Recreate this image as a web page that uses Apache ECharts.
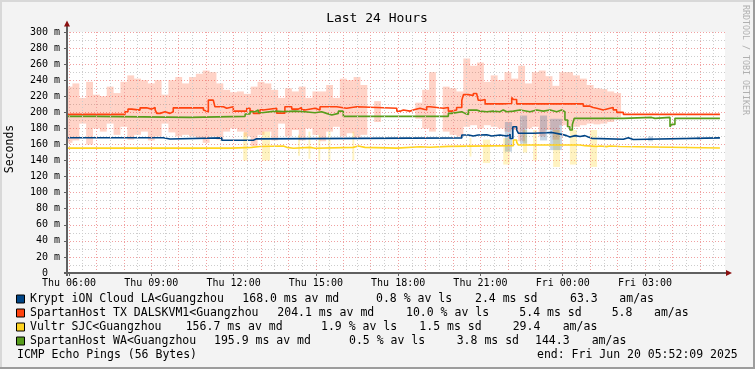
<!DOCTYPE html>
<html><head><meta charset="utf-8">
<script src="https://cdn.jsdelivr.net/npm/echarts@6/dist/echarts.min.js"></script>
<style>html,body{margin:0;padding:0;background:#f3f3f3}#c{width:755px;height:369px}</style>
</head><body><div id="c"></div><script>
const MONO = '"DejaVu Sans Mono", monospace';
// ---- axes ----
const xStart = 5.927, xEnd = 29.915;           // hours since Thu 00:00
const xLabelHours = [6, 9, 12, 15, 18, 21, 24, 27];
const xLabels = ['Thu 06:00','Thu 09:00','Thu 12:00','Thu 15:00','Thu 18:00','Thu 21:00','Fri 00:00','Fri 03:00'];
const yMin = 0, yMax = 300, yStep = 20;
const title = 'Last 24 Hours';
const yTitle = 'Seconds';
// ---- legend ----
const hostNames = ['Krypt iON Cloud LA<Guangzhou','SpartanHost TX DALSKVM1<Guangzhou','Vultr SJC<Guangzhou','SpartanHost WA<Guangzhou'];
const medianMs = ['168.0','204.1','156.7','195.9'];
const lossPct = ['0.8','10.0','1.9','0.5'];
const sdMs = ['2.4','5.4','1.5','3.8'];
const amas = ['63.3','5.8','29.4','144.3'];
const footLeft = 'ICMP Echo Pings (56 Bytes)';
const footRight = 'end: Fri Jun 20 05:52:09 2025';
// ---- median lines (step changes: hour, ms) ----
const kryptT = [5.93,9.44,9.68,11.57,12.72,12.84,20.32,20.56,20.74,20.92,21.23,21.41,21.71,21.96,22.08,22.18,22.32,22.38,22.93,23.42,23.60,23.96,24.14,24.26,24.45,24.63,24.81,24.93,25.06,26.21,26.39,26.57,29.73];
const kryptV = [168.4,166.8,168.2,165.2,167,168.2,171.7,170.5,171.7,172,170.5,171.7,170.5,172.6,167.5,182,178,174,174.5,175,172.6,171,169.3,171,170,171,169.3,167.6,166.5,168.5,166.2,168.2,168.2];
const txT = [5.93,8.04,8.15,8.29,8.59,8.83,9.01,9.14,9.20,9.32,9.50,9.68,9.80,10.90,10.96,11.08,11.26,11.32,11.63,11.75,11.99,12.48,12.60,12.72,12.96,13.08,13.57,13.87,14.12,14.36,14.48,14.60,14.97,15.15,15.76,16.12,16.49,17.95,18.07,18.19,18.43,18.61,18.68,18.80,19.04,19.16,19.65,19.83,19.95,20.13,20.32,20.38,20.56,20.74,20.86,20.92,21.05,21.17,21.78,22.14,22.20,22.32,24.75,24.99,25.11,25.24,25.48,25.72,25.84,25.97,26.21,29.73];
const txV = [197.4,200.7,204,202.8,205.6,204,206,203,198.7,200.7,198.7,200.7,205.6,202.8,200.7,215.2,213,207,205,207,201.5,205,201.5,198.7,203,205,199,207,204,206,203,205,203,207,205,207,205,201.5,203,201.5,203.5,201.5,205,203,207,205,206,201.5,203,206,215,222,221,223.5,225.5,215,216,210.5,211,218.5,216,210.5,207.7,206,205,203,205,206,203,200,197.4,197.4];
const vultrT = [5.93,11.93,12.66,12.96,13.81,13.94,14.18,14.79,14.97,16.36,16.55,16.79,17.95,18.80,19.16,19.83,22.20,22.32,22.38,24.63,24.69,24.81,25.24,25.36,25.60,25.72,26.09,29.73];
const vultrV = [155.4,156.4,157.5,158,156.4,155.2,156.4,155.2,156.4,158,156.4,155.4,157.2,156.6,157.6,158.5,165.5,163,159.3,160,158.5,157.5,158,157.3,158,157.5,155.6,155.6];
const waT = [5.93,6.95,10.41,12.42,12.60,12.78,12.90,13.03,13.51,13.81,14.24,14.60,14.97,15.21,15.39,15.58,15.82,16.00,19.83,19.95,20.32,20.44,20.56,20.86,20.98,21.23,21.47,21.71,21.83,21.96,22.20,22.44,22.81,23.05,23.29,23.54,23.78,23.96,24.08,24.18,24.26,24.35,24.42,26.21,27.24,27.36,27.91,27.97,28.09,29.73];
const waV = [195,193.7,195,198,200.7,202.8,199.5,201.5,201,201.5,200.7,199.5,200.7,198.7,196.6,198.7,201.5,195,198.7,200.7,198.7,197.4,202.8,201.5,200.7,201.5,200.7,203,200.7,201.5,202.8,200.7,202.8,201.5,202.8,200.7,202.8,200.7,190.4,182,178,185,192.5,193.7,192.5,193.7,182,185,192.5,192.5];
// ---- smoke (ping spread) ----
const txSmokeT = [6.00,6.25,6.50,6.75,7.00,7.25,7.50,7.75,8.00,8.25,8.50,8.75,9.00,9.25,9.50,9.75,10.00,10.25,10.50,10.75,11.00,11.25,11.50,11.75,12.00,12.25,12.50,12.75,13.00,13.25,13.50,13.75,14.00,14.25,14.50,14.75,15.00,15.25,15.50,15.75,16.00,16.25,16.50,16.75,17.25,18.75,19.00,19.25,19.75,20.00,20.25,20.50,20.75,21.00,21.25,21.50,21.75,22.00,22.25,22.50,22.75,23.00,23.25,23.50,23.75,24.00,24.25,24.50,24.75,25.00,25.25,25.50,25.75,26.00];
const txSmokeHi = [232,236,218,238,222,220,232,224,238,246,242,240,236,240,222,240,244,236,244,248,252,250,236,228,225,226,223,232,238,236,228,218,230,226,232,218,226,226,234,218,242,240,244,234,214,212,228,250,232,230,226,267,258,262,238,246,240,250,242,258,236,250,252,245,233,250,250,246,242,234,230,229,226,224];
const txSmokeLo = [162,165,186,160,180,176,186,172,182,166,172,176,165,170,186,175,170,172,170,168,162,170,166,176,180,176,170,158,172,176,165,186,170,178,165,180,172,164,176,182,170,174,168,172,188,192,180,176,176,172,170,182,184,180,184,182,180,176,178,164,180,182,170,178,166,184,182,182,184,186,185,186,188,194];
const vultrSmoke = [[12.35,12.50,140,175],[13.04,13.33,140,176],[14.35,14.42,146,172],[14.73,14.80,142,176],[15.09,15.16,140,172],[15.45,15.53,140,176],[16.33,16.40,140,176],[20.60,20.67,145,168],[21.09,21.35,137,166],[21.83,22.07,135,168],[22.55,22.70,150,178],[22.92,23.06,140,178],[23.65,23.90,132,178],[24.26,24.52,135,178],[24.99,25.25,132,178]];
const kryptSmoke = [[21.89,22.15,151,188],[22.44,22.70,161,196],[23.17,23.43,165,196],[23.54,23.97,153,192],[27.11,27.29,164,170],[28.90,29.05,166,170]];

const colKrypt = '#004586', colTx = '#ff420e', colVultr = '#ffd320', colWa = '#579d1c';

function pairs(T, V) { return T.map((t, i) => [t, V[i]]); }
const txSmoke = txSmokeT.map((t, i) => [t - 0.125, t + 0.125, txSmokeLo[i], txSmokeHi[i]]);

function smokeSeries(data, color) {
  return {
    type: 'custom', data: data, clip: true, silent: true, z: 1,
    encode: { x: [0, 1], y: [2, 3] },
    renderItem: function (params, api) {
      const p0 = api.coord([api.value(0), api.value(3)]);
      const p1 = api.coord([api.value(1), api.value(2)]);
      return { type: 'rect', shape: { x: p0[0], y: p0[1], width: p1[0] - p0[0], height: p1[1] - p0[1] }, style: { fill: color } };
    }
  };
}
function lineSeries(T, V, color) {
  return { type: 'line', step: 'end', data: pairs(T, V), symbol: 'none', silent: true, z: 3,
    lineStyle: { color: color, width: 1.6 }, itemStyle: { color: color } };
}
// grid lines
const hourLines = [], halfLines = [];
for (let h = 6; h <= 29; h++) { hourLines.push({ xAxis: h }); halfLines.push({ xAxis: h + 0.5 }); }

const seriesList = [
  { type: 'line', data: [], silent: true, z: 0,
    markLine: { silent: true, symbol: 'none', label: { show: false }, animation: false,
      lineStyle: { color: '#cdcdcd', width: 1, type: [1, 2] }, data: halfLines } },
  { type: 'line', data: [], silent: true, z: 0,
    markLine: { silent: true, symbol: 'none', label: { show: false }, animation: false,
      lineStyle: { color: '#f0a0a0', width: 1, type: [1, 2] }, data: hourLines } },
  smokeSeries(txSmoke, 'rgba(255,66,14,0.23)'),
  smokeSeries(vultrSmoke, 'rgba(255,211,32,0.28)'),
  smokeSeries(kryptSmoke, 'rgba(0,69,134,0.22)'),
  lineSeries(kryptT, kryptV, colKrypt),
  lineSeries(txT, txV, colTx),
  lineSeries(vultrT, vultrV, colVultr),
  lineSeries(waT, waV, colWa)
];

// ---- graphics (frame, title, legend, axis arrows) ----
function txt(x, y, s, opt) {
  opt = opt || {};
  return { type: 'text', x: x, y: y, rotation: opt.rot || 0, z: 100,
    style: { text: s, font: (opt.size || 11.5) + 'px ' + MONO, fill: opt.fill || '#000',
      align: opt.align || 'left', textAlign: opt.align || 'left',
      verticalAlign: 'middle', textVerticalAlign: 'middle' } };
}
const g = [];
g.push({ type: 'rect', shape: { x: 0, y: 0, width: 755, height: 2 }, style: { fill: '#d8d8d8' }, z: 100 });
g.push({ type: 'rect', shape: { x: 0, y: 0, width: 2, height: 369 }, style: { fill: '#d8d8d8' }, z: 100 });
g.push({ type: 'rect', shape: { x: 0, y: 367, width: 755, height: 2 }, style: { fill: '#9c9c9c' }, z: 100 });
g.push({ type: 'rect', shape: { x: 753, y: 0, width: 2, height: 369 }, style: { fill: '#9c9c9c' }, z: 100 });
g.push(txt(377, 19, title, { size: 13, align: 'center' }));
g.push(txt(10, 149, yTitle, { size: 11.5, align: 'center', rot: Math.PI / 2 }));
g.push(txt(745, 60, 'RRDTOOL / TOBI OETIKER', { size: 8.3, align: 'center', rot: -Math.PI / 2, fill: '#b0b0b0' }));
// axis lines + arrows
g.push({ type: 'line', shape: { x1: 67, y1: 24, x2: 67, y2: 276 }, style: { stroke: '#606060', lineWidth: 2 }, z: 50 });
g.push({ type: 'line', shape: { x1: 64, y1: 273, x2: 727, y2: 273 }, style: { stroke: '#606060', lineWidth: 2 }, z: 50 });
g.push({ type: 'polygon', shape: { points: [[64, 26.5], [70, 26.5], [67, 20.5]] }, style: { fill: '#8b1010' }, z: 51 });
g.push({ type: 'polygon', shape: { points: [[726, 270], [726, 276], [732, 273]] }, style: { fill: '#8b1010' }, z: 51 });
// legend
const legendCols = [colKrypt, colTx, colVultr, colWa];
const rowY = [299.5, 313.5, 327.5, 341.5];
const rowPos = [
  [30, 242.3, 376, 475, 570, 619.3],
  [30, 277.3, 406, 519.3, 611.7, 654],
  [30, 185.7, 321, 419.3, 512.7, 562.7],
  [30, 214, 349, 456.7, 535, 591.7]
];
for (let i = 0; i < 4; i++) {
  g.push({ type: 'rect', shape: { x: 16.5, y: rowY[i] - 4.5, width: 8, height: 8 }, style: { fill: legendCols[i], stroke: '#000', lineWidth: 1 }, z: 100 });
  const segs = [hostNames[i], medianMs[i] + ' ms av md', lossPct[i] + ' % av ls', sdMs[i] + ' ms sd', amas[i], 'am/as'];
  segs.forEach((s, k) => g.push(txt(rowPos[i][k], rowY[i], s)));
}
g.push(txt(17, 355.3, footLeft));
g.push(txt(537, 355.3, footRight));

const chart = echarts.init(document.getElementById('c'));
chart.setOption({
  animation: false,
  backgroundColor: '#f3f3f3',
  grid: { left: 67, top: 32, width: 658, height: 241, show: true, backgroundColor: '#ffffff', borderWidth: 0 },
  xAxis: {
    type: 'value', min: xStart, max: xEnd,
    axisLine: { show: false }, splitLine: { show: false },
    axisTick: { show: true, customValues: xLabelHours, length: 3, lineStyle: { color: '#606060' } },
    axisLabel: { customValues: xLabelHours, margin: 5, fontFamily: MONO, fontSize: 10, color: '#000',
      formatter: function (v) { const i = xLabelHours.indexOf(Math.round(v)); return i >= 0 ? xLabels[i] : ''; } }
  },
  yAxis: {
    type: 'value', min: yMin, max: yMax, interval: yStep,
    axisLine: { show: false },
    axisTick: { show: true, length: 3, lineStyle: { color: '#606060' } },
    axisLabel: { margin: 7, fontFamily: MONO, fontSize: 10, color: '#000', formatter: function (v) { return v === 0 ? '0  ' : v + ' m'; } },
    splitLine: { show: true, lineStyle: { color: '#f0a0a0', width: 1, type: [1, 2] } },
    minorTick: { show: false, splitNumber: 2 },
    minorSplitLine: { show: true, lineStyle: { color: '#cdcdcd', width: 1, type: [1, 2] } }
  },
  graphic: { elements: g },
  series: seriesList
});
</script></body></html>
